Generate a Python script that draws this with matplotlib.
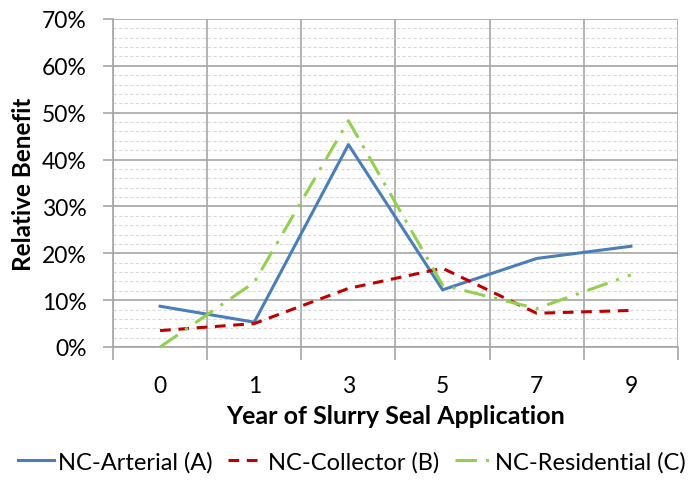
import matplotlib
matplotlib.use("Agg")
import matplotlib.pyplot as plt
import numpy as np
from matplotlib.ticker import MultipleLocator, FuncFormatter, FixedLocator

plt.rcParams['font.family'] = ['Lato', 'DejaVu Sans']

years = ['0', '1', '3', '5', '7', '9']
arterial = [8.7, 5.3, 43.2, 12.2, 18.9, 21.5]
collector = [3.5, 5.0, 12.5, 16.8, 7.2, 7.8]
residential = [0.0, 13.8, 48.3, 13.2, 8.2, 15.4]

fig = plt.figure(figsize=(6.89, 4.81), dpi=100)
ax = fig.add_axes([113/689, 1-348/481, (678-113)/689, (348-20)/481])

x = np.arange(len(years))
ax.plot(x, arterial, color='#4A7EBB', lw=2.2, label='NC-Arterial (A)', zorder=3)
ax.plot(x, collector, color='#C00000', lw=2.2, ls=(0, (3.5, 2.5)), label='NC-Collector (B)', zorder=3)
ax.plot(x, residential, color='#92D050', lw=2.2, ls=(0, (7, 3, 1, 3)), label='NC-Residential (C)', zorder=3)

ax.set_xlim(-0.5, len(years) - 0.5)
ax.set_ylim(0, 70)
ax.yaxis.set_major_locator(MultipleLocator(10))
ax.yaxis.set_minor_locator(MultipleLocator(2))
ax.yaxis.set_major_formatter(FuncFormatter(lambda v, p: '%d%%' % v))
ax.set_xticks(x)
ax.set_xticklabels(years)
ax.xaxis.set_minor_locator(FixedLocator(np.arange(-0.5, len(years), 1.0)))

ax.grid(which='major', axis='y', color='#A6A6A6', lw=1.2)
ax.grid(which='minor', axis='y', color='#D9D9D9', lw=0.8, ls=(0, (3, 2)))
ax.grid(which='minor', axis='x', color='#A6A6A6', lw=1.2)
ax.set_axisbelow(True)

for s in ['top', 'right']:
    ax.spines[s].set_visible(False)
ax.spines['left'].set_color('#A6A6A6')
ax.spines['bottom'].set_color('#A6A6A6')
ax.spines['left'].set_linewidth(1.2)
ax.spines['bottom'].set_linewidth(1.2)

ax.tick_params(axis='x', which='major', length=0, pad=20, labelsize=16.5)
ax.tick_params(axis='x', which='minor', length=9, color='#A6A6A6', width=1.2)
ax.tick_params(axis='y', which='major', length=7, color='#A6A6A6', width=1.2, labelsize=16.5, pad=12)
ax.tick_params(axis='y', which='minor', length=0)

ax.set_ylabel('Relative Benefit', fontsize=17.5, fontweight='bold')
ax.yaxis.set_label_coords((35 - 113) / 565, 0.5)
ax.set_xlabel('Year of Slurry Seal Application', fontsize=18, fontweight='bold', labelpad=6)

fig.legend(loc='center', bbox_to_anchor=(352/689, 1-463/481), ncol=3, frameon=False,
           fontsize=17, handlelength=1.5, handletextpad=0.2, columnspacing=0.65)

fig.savefig('out.png', dpi=100)
